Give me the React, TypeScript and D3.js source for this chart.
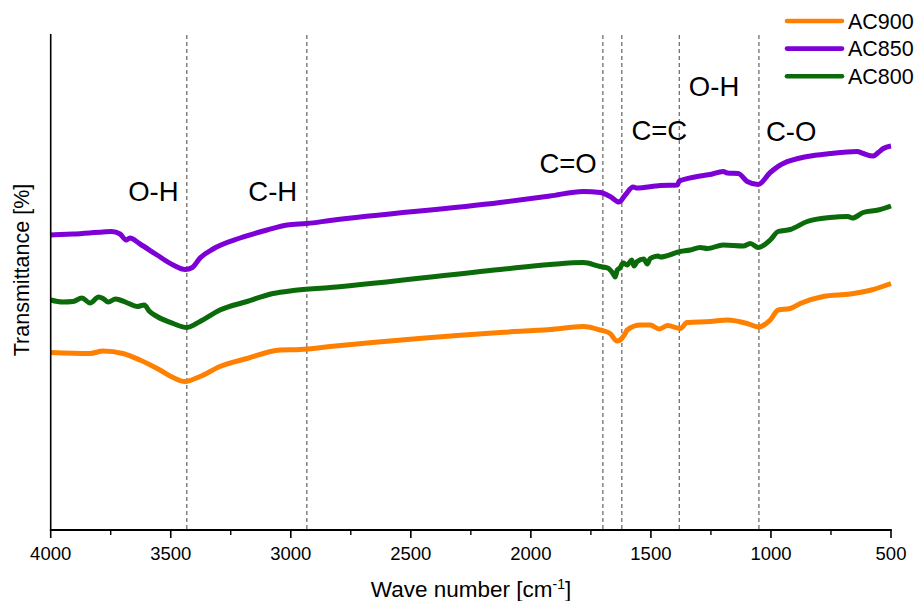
import React from "react";
import * as d3 from "d3";

type Pt = [number, number];

// Wavenumber (cm^-1), transmittance (arbitrary offset units)
const AC850: Pt[] = [
  [4000, 59.0], [3907, 59.2], [3782, 59.6], [3746, 59.7], [3711, 59.2], [3686, 58.0], [3670, 58.4],
  [3628, 57.2], [3557, 55.0], [3490, 53.0], [3440, 52.1], [3410, 52.5], [3378, 54.4], [3324, 56.2],
  [3211, 58.4], [3099, 60.0], [3015, 61.0], [2932, 61.3], [2836, 61.9], [2128, 65.5], [1920, 66.8],
  [1782, 67.7], [1711, 67.5], [1670, 66.7], [1632, 65.6], [1607, 67.0], [1574, 68.6], [1560, 68.4],
  [1461, 68.9], [1390, 69.0], [1382, 69.8], [1370, 70.0], [1295, 70.8], [1253, 71.1], [1199, 71.7],
  [1182, 71.4], [1136, 71.3], [1099, 69.7], [1053, 69.1], [1003, 71.5], [961, 73.0], [949, 73.3],
  [849, 74.7], [753, 75.3], [641, 75.7], [616, 75.3], [574, 74.8], [553, 75.5], [532, 76.3], [500, 76.8],
];

const AC800: Pt[] = [
  [4000, 46.0], [3950, 45.6], [3907, 45.7], [3870, 46.4], [3836, 45.4], [3800, 46.6], [3782, 46.3],
  [3760, 45.6], [3730, 46.2], [3711, 46.0], [3680, 45.4], [3640, 44.7], [3610, 45.0], [3590, 43.8],
  [3557, 42.7], [3490, 41.3], [3432, 40.5], [3378, 41.7], [3295, 44.0], [3182, 45.7], [3074, 47.3],
  [2990, 47.9], [2836, 48.5], [2128, 52.1], [1920, 53.1], [1782, 53.5], [1711, 52.7], [1680, 52.4],
  [1658, 51.3], [1649, 50.6], [1640, 52.0], [1629, 52.4], [1616, 53.4], [1599, 53.0], [1580, 54.0],
  [1570, 52.8], [1557, 53.7], [1530, 54.2], [1515, 53.2], [1503, 54.3], [1470, 54.8], [1461, 54.6],
  [1378, 55.7], [1336, 56.0], [1295, 56.5], [1265, 56.3], [1199, 57.0], [1115, 56.8], [1086, 57.3],
  [1053, 56.5], [1003, 58.0], [970, 59.7], [920, 60.1], [849, 61.7], [753, 62.5], [680, 62.7],
  [660, 62.4], [616, 63.5], [553, 64.0], [500, 64.8],
];

const AC900: Pt[] = [
  [4000, 35.5], [3836, 35.3], [3782, 35.8], [3699, 35.3], [3628, 34.0], [3545, 32.0], [3490, 30.5],
  [3440, 29.7], [3378, 30.7], [3295, 32.7], [3182, 34.3], [3045, 36.0], [2961, 36.1], [2836, 36.7],
  [2128, 39.5], [1920, 40.1], [1782, 40.7], [1711, 40.0], [1670, 39.3], [1641, 37.8], [1620, 38.4],
  [1607, 39.3], [1599, 40.0], [1544, 41.0], [1503, 41.0], [1465, 40.2], [1430, 40.9], [1378, 40.3],
  [1349, 41.5], [1253, 41.7], [1182, 42.0], [1099, 41.3], [1053, 40.6], [1003, 42.0], [970, 44.0],
  [920, 44.3], [878, 45.3], [782, 46.7], [670, 47.2], [582, 48.0], [500, 49.3],
];

const seriesNames = ["AC900", "AC850", "AC800"];
const seriesData = [AC900, AC850, AC800];
const seriesColors = ["#ff8000", "#7d00d6", "#0b6b0b"];

const majorTicks = [4000, 3500, 3000, 2500, 2000, 1500, 1000, 500];
const minorTicks = [3750, 3250, 2750, 2250, 1750, 1250, 750];

const bandLines = [3433, 2933, 1700, 1621, 1382, 1050];
const bandLabels = ["O-H", "C-H", "C=O", "C=C", "O-H", "C-O"];
const bandLabelX = [3572, 3075, 1845, 1465, 1237, 916];
const bandLabelY = [65.9, 65.9, 71.4, 78.0, 86.8, 77.8];

const W = 921;
const H = 601;

export default function App() {
  const x = d3.scaleLinear().domain([4000, 500]).range([50.7, 891]);
  const y = d3.scaleLinear().domain([0, 99]).range([530, 35]);
  const line = d3
    .line<Pt>()
    .x((d) => x(d[0]))
    .y((d) => y(d[1]))
    .curve(d3.curveMonotoneX);

  const font = "'Liberation Sans', Arial, sans-serif";

  return (
    <svg
      width={W}
      height={H}
      style={{ position: "absolute", left: 0, top: 0, background: "#fff" }}
      fontFamily={font}
    >
      {/* band guide lines */}
      {bandLines.map((b, i) => (
        <line
          key={"b" + i}
          x1={x(b)}
          x2={x(b)}
          y1={y(99)}
          y2={y(0)}
          stroke="#444"
          strokeWidth={1}
          strokeDasharray="4,3"
        />
      ))}

      {/* series */}
      {seriesData.map((d, i) => (
        <path
          key={"s" + i}
          d={line(d) || ""}
          fill="none"
          stroke={seriesColors[i]}
          strokeWidth={5}
          strokeLinejoin="round"
        />
      ))}

      {/* axes */}
      <line x1={x(4000)} x2={x(4000)} y1={y(99) - 1} y2={y(0)} stroke="#000" strokeWidth={1.6} />
      <line x1={x(4000) - 0.8} x2={x(500) + 0.8} y1={y(0)} y2={y(0)} stroke="#000" strokeWidth={2} />
      {majorTicks.map((t) => (
        <g key={"t" + t}>
          <line x1={x(t)} x2={x(t)} y1={y(0)} y2={y(0) + 8} stroke="#000" strokeWidth={1.6} />
          <text x={x(t)} y={560} textAnchor="middle" fontSize={18.5} fill="#000">
            {t}
          </text>
        </g>
      ))}
      {minorTicks.map((t) => (
        <line key={"m" + t} x1={x(t)} x2={x(t)} y1={y(0)} y2={y(0) + 5} stroke="#000" strokeWidth={1.4} />
      ))}

      {/* axis titles */}
      <text x={471} y={597} textAnchor="middle" fontSize={22.5} fill="#000">
        Wave number [cm
        <tspan dy={-8} fontSize={14}>
          -1
        </tspan>
        <tspan dy={8}>]</tspan>
      </text>
      <text
        transform="translate(29,270) rotate(-90)"
        textAnchor="middle"
        fontSize={21.5}
        fill="#000"
      >
        Transmittance [%]
      </text>

      {/* band labels */}
      {bandLabels.map((l, i) => (
        <text
          key={"l" + i}
          x={x(bandLabelX[i])}
          y={y(bandLabelY[i])}
          textAnchor="middle"
          fontSize={27.5}
          fill="#000"
        >
          {l}
        </text>
      ))}

      {/* legend */}
      {seriesNames.map((n, i) => (
        <g key={"g" + i}>
          <line
            x1={787}
            x2={842}
            y1={21 + i * 27.6}
            y2={21 + i * 27.6}
            stroke={seriesColors[i]}
            strokeWidth={4.6}
            strokeLinecap="round"
          />
          <text x={848} y={28.5 + i * 27.6} fontSize={21.5} fill="#000">
            {n}
          </text>
        </g>
      ))}
    </svg>
  );
}
